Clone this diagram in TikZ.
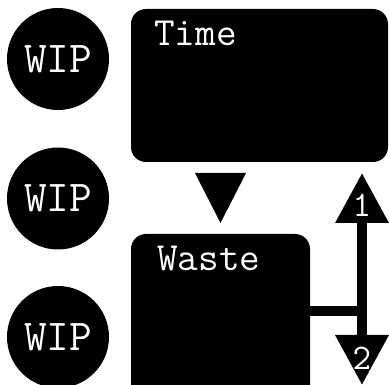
\documentclass[tikz,border=0pt]{standalone}
\usetikzlibrary{arrows.meta}
\tikzset{bighead/.tip={Triangle[length=50pt,width=51pt]}}
\begin{document}
\begin{tikzpicture}[x=1pt,y=1pt,
  wip/.style={circle,fill=black,text=white,minimum size=102pt,inner sep=0pt,font=\fontsize{44}{44}\selectfont\ttfamily},
  blockbox/.style={rectangle,rounded corners=15pt,fill=black,inner sep=0pt},
  blocklbl/.style={text=white,inner sep=0pt,font=\fontsize{40}{40}\selectfont\ttfamily},
  tiplbl/.style={text=white,inner sep=0pt,font=\fontsize{36}{36}\selectfont\ttfamily},
  bar/.style={line width=10pt}]
\useasboundingbox (0,0) rectangle (389,-385);
\clip (0,0) rectangle (389,-385);
\fill[white] (0,0) rectangle (389,-385);
% WIP circles
\node[wip] (w1) at (58,-59) {WIP};
\node[wip] (w2) at (58,-198.5) {WIP};
\node[wip] (w3) at (58,-337) {WIP};
% boxes
\node[blockbox,minimum width=257pt,minimum height=153pt] (time) at (259.5,-85.5) {};
\node[blocklbl,anchor=base west] (timelbl) at (154,-46) {Time};
\node[blockbox,minimum width=179pt,minimum height=170pt] (waste) at (220.5,-319) {};
\node[blocklbl,anchor=base west] (wastelbl) at (157,-271) {Waste};
% triangle between boxes
\coordinate (ta) at (195,-173);
\coordinate (tb) at (246,-173);
\coordinate (tc) at (220.5,-223);
\fill (ta) -- (tb) -- (tc) -- cycle;
% double arrow
\coordinate (tipup) at (362,-173);
\coordinate (tipdn) at (362,-385);
\coordinate (junc) at (362,-311);
\draw[bar] ([xshift=-2pt]waste.east |- junc) -- (junc);
\draw[bar,{bighead}-{bighead}] (tipdn) -- (tipup);
\node[tiplbl] (one) at (362,-205) {1};
\node[tiplbl] (two) at (362,-358) {2};
\end{tikzpicture}
\end{document}
